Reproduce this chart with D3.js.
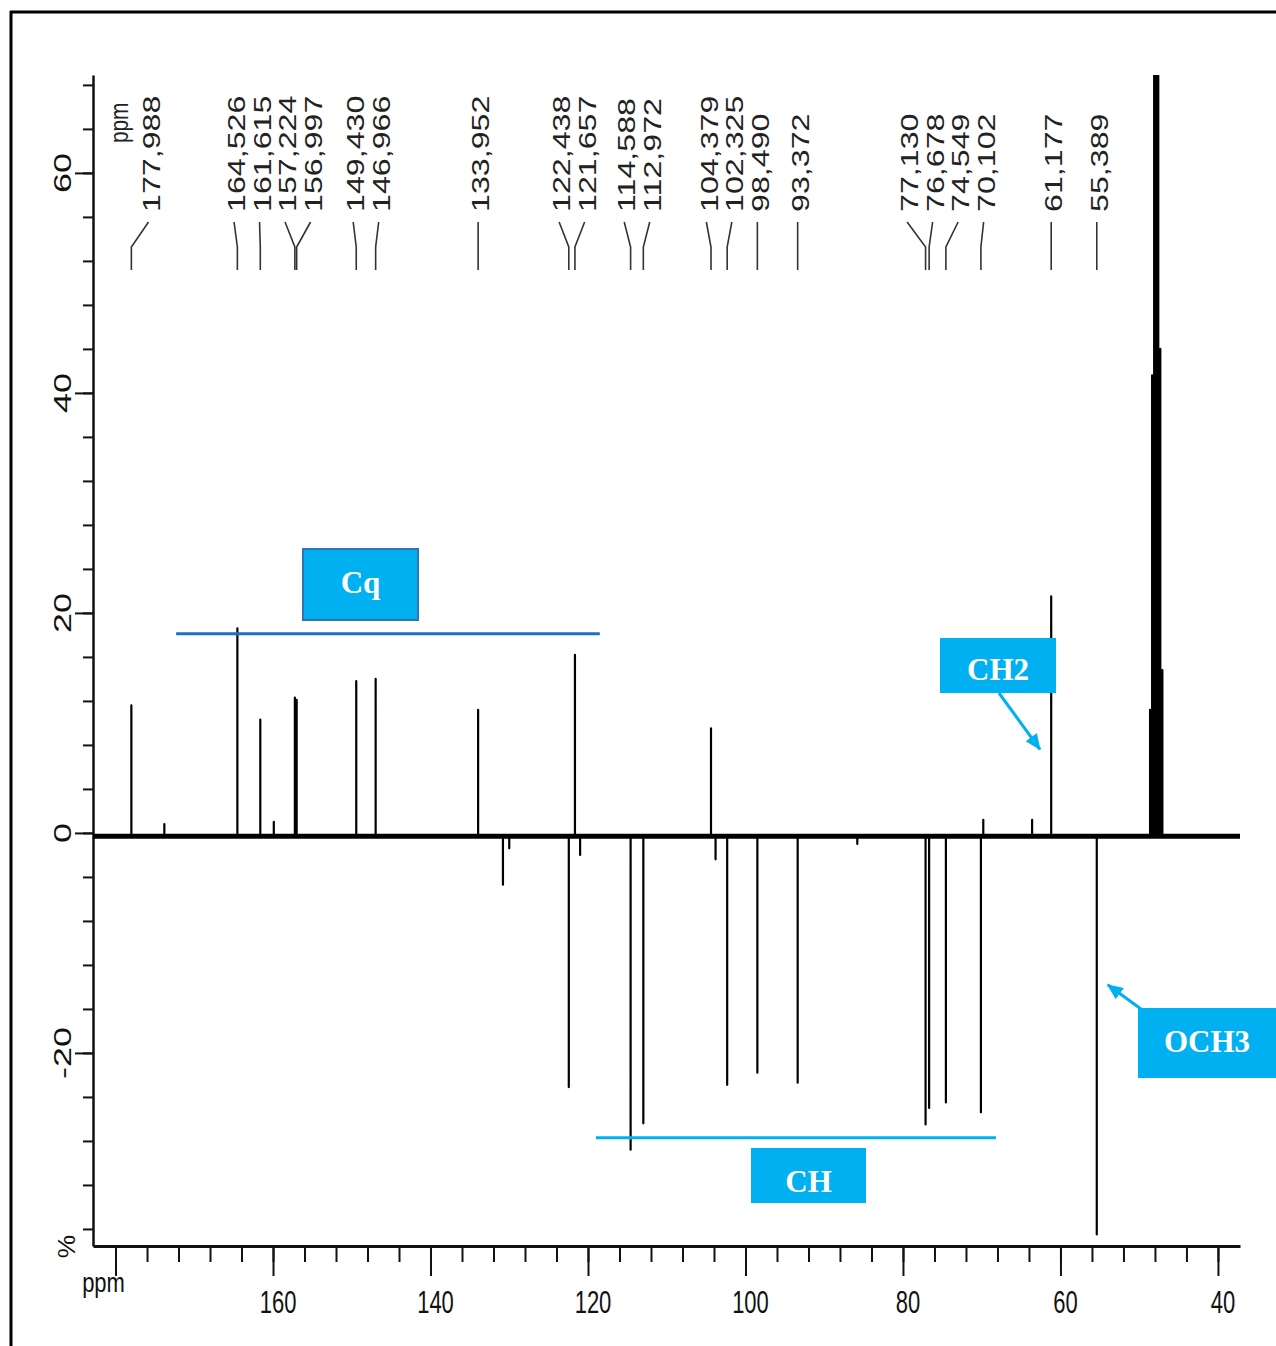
<!DOCTYPE html>
<html><head><meta charset="utf-8">
<script src="https://cdn.jsdelivr.net/npm/d3@7"></script>
<style>body{margin:0;background:#fff}</style>
</head><body><svg id="c" width="1276" height="1346"></svg>
<script>
// ---------- data ----------
const peakLabels = ["177,988","164,526","161,615","157,224","156,997","149,430","146,966","133,952","122,438","121,657","114,588","112,972","104,379","102,325","98,490","93,372","77,130","76,678","74,549","70,102","61,177","55,389"];
const peakPpm = [177.988,164.526,161.615,157.224,156.997,149.430,146.966,133.952,122.438,121.657,114.588,112.972,104.379,102.325,98.490,93.372,77.130,76.678,74.549,70.102,61.177,55.389];
const peakIntensity = [11.6,18.6,10.3,12.3,12.1,13.8,14.0,11.2,-23.1,16.2,-28.8,-26.4,9.5,-22.9,-21.8,-22.7,-26.5,-25.0,-24.5,-25.4,21.5,-36.5];
const minorPpm = [173.8,159.9,130.8,130.0,121.0,103.8,85.8,69.8,63.6];
const minorIntensity = [0.8,1.0,-4.7,-1.4,-2.0,-2.4,-1.0,1.2,1.2];
const solventPpm = [48.62,48.36,48.10,47.84,47.58,47.32,47.06];
const solventIntensity = [11.2,41.6,95,120,95,44,14.8];
const baselineLevel = -0.3;
const xMajorTicks = [180,160,140,120,100,80,60,40];
const xTickLabels = ["ppm","160","140","120","100","80","60","40"];
const yMajorTicks = [60,40,20,0,-20];
const yTickLabels = ["60","40","20","0","-20"];
const groupNames = ["Cq","CH","CH2","OCH3"];

// ---------- setup ----------
const svg = d3.select("#c");
svg.append("rect").attr("width",1276).attr("height",1346).attr("fill","#fff");
const x = d3.scaleLinear().domain([182.86, 37.2]).range([93, 1240]);
const y = d3.scaleLinear().domain([-37.55, 68.9]).range([1246, 75]);
const defs = svg.append("defs");
defs.append("clipPath").attr("id","plotclip").append("rect")
  .attr("x",88).attr("y",75).attr("width",1160).attr("height",1171);
defs.append("marker").attr("id","arr").attr("markerUnits","userSpaceOnUse")
  .attr("markerWidth",16).attr("markerHeight",14).attr("refX",15).attr("refY",7)
  .attr("orient","auto").append("path").attr("d","M0,0 L16,7 L0,14 Z").attr("fill","#00b0f0");

// frame
svg.append("line").attr("x1",10).attr("x2",1276).attr("y1",12).attr("y2",12).attr("stroke","#000").attr("stroke-width",3);
svg.append("line").attr("x1",11).attr("x2",11).attr("y1",11).attr("y2",1346).attr("stroke","#000").attr("stroke-width",3);

// ---------- axes ----------
const xMinor = d3.range(180, 39, -4);
const gx = svg.append("g").attr("transform","translate(0,1246)");
gx.call(d3.axisBottom(x).tickValues(xMinor).tickSize(16).tickSizeOuter(0).tickFormat(""));
gx.append("g").call(d3.axisBottom(x).tickValues(xMajorTicks).tickSize(30).tickSizeOuter(0).tickFormat(""))
  .select(".domain").remove();
gx.selectAll("line").attr("stroke","#111").attr("stroke-width",2);
gx.select(".domain").attr("stroke","#111").attr("stroke-width",3);

const yMinor = d3.range(-36, 69, 4);
const gy = svg.append("g").attr("transform","translate(93,0)");
gy.call(d3.axisLeft(y).tickValues(yMinor).tickSize(10).tickSizeOuter(0).tickFormat(""));
gy.append("g").call(d3.axisLeft(y).tickValues(yMajorTicks).tickSize(18).tickSizeOuter(0).tickFormat(""))
  .select(".domain").remove();
gy.selectAll("line").attr("stroke","#111").attr("stroke-width",2);
gy.select(".domain").attr("stroke","#111").attr("stroke-width",2.5);

const FONT = "'Liberation Sans', Arial, sans-serif";
// x tick labels (vertically stretched like the source)
xMajorTicks.forEach((v,i) => {
  if (xTickLabels[i] === "ppm") {
    svg.append("text").attr("transform",`translate(${x(v)-12},1292) scale(1,1.25)`)
      .attr("text-anchor","middle").attr("font-family",FONT).attr("font-size",22).attr("fill","#111").text("ppm");
  } else {
    svg.append("text").attr("transform",`translate(${x(v)+5},1313) scale(1,1.45)`)
      .attr("text-anchor","middle").attr("font-family",FONT).attr("font-size",22).attr("fill","#111").text(xTickLabels[i]);
  }
});
// y tick labels (rotated)
yMajorTicks.forEach((v,i) => {
  svg.append("text").attr("transform",`translate(71,${y(v)}) scale(1,1.5) rotate(-90)`)
    .attr("text-anchor","middle").attr("font-family",FONT).attr("font-size",24).attr("fill","#111").text(yTickLabels[i]);
});
svg.append("text").attr("transform",`translate(75,${y(-37.5)+1}) scale(1,1.1) rotate(-90)`)
  .attr("text-anchor","middle").attr("font-family",FONT).attr("font-size",24).attr("fill","#111").text("%");

// ---------- spectrum ----------
const allPeaks = peakPpm.map((p,i)=>[p,peakIntensity[i]])
  .concat(minorPpm.map((p,i)=>[p,minorIntensity[i]]))
  .concat(solventPpm.map((p,i)=>[p,solventIntensity[i]]))
  .sort((a,b)=>b[0]-a[0]);
const pts = [[x.domain()[0], baselineLevel]];
allPeaks.forEach(([p,h]) => { pts.push([p,baselineLevel],[p,h],[p,baselineLevel]); });
pts.push([x.domain()[1], baselineLevel]);
const spec = svg.append("g").attr("clip-path","url(#plotclip)");
spec.append("line").attr("x1",x(x.domain()[0])).attr("x2",x(x.domain()[1]))
  .attr("y1",y(baselineLevel)).attr("y2",y(baselineLevel)).attr("stroke","#000").attr("stroke-width",5);
spec.append("path").attr("d", d3.line().x(d=>x(d[0])).y(d=>y(d[1]))(pts))
  .attr("fill","none").attr("stroke","#000").attr("stroke-width",2.2).attr("stroke-linejoin","round");

// ---------- peak labels ----------
const headerX = x(180) + 7.5;
const gap = 25.5;
function spread(pos, gap, minLeft){
  const stack = [];
  const centre = (c, first) => {
    let ctr = c.sum / c.idx.length;
    const left = ctr - (c.idx.length-1)/2*gap;
    if (first && left < minLeft) ctr += (minLeft-left);
    return ctr;
  };
  pos.forEach((p,i) => {
    stack.push({idx:[i], sum:p});
    let merged = true;
    while (merged && stack.length >= 2) {
      merged = false;
      const a = stack[stack.length-2], b = stack[stack.length-1];
      const ca = centre(a, stack.length === 2), cb = centre(b, false);
      const aRight = ca + (a.idx.length-1)/2*gap;
      const bLeft = cb - (b.idx.length-1)/2*gap;
      if (bLeft - aRight < gap) {
        stack.pop(); stack.pop();
        stack.push({idx:a.idx.concat(b.idx), sum:a.sum+b.sum});
        merged = true;
      }
    }
  });
  const out = new Array(pos.length);
  stack.forEach((c,ci) => {
    const ctr = centre(c, ci === 0);
    c.idx.forEach((id,k) => { out[id] = ctr + (k-(c.idx.length-1)/2)*gap; });
  });
  return out;
}
const peakX = peakPpm.map(p => x(p));
const labelX = spread(peakX, gap, headerX + gap);
const gl = svg.append("g");
peakLabels.forEach((t,i) => {
  gl.append("path").attr("d",`M${peakX[i]},270 L${peakX[i]},247 L${labelX[i]},222`)
    .attr("fill","none").attr("stroke","#333").attr("stroke-width",1.6);
  gl.append("text").attr("transform",`translate(${labelX[i]+3+0.358*23},212) scale(1,1.4) rotate(-90)`)
    .attr("text-anchor","start").attr("font-family",FONT).attr("font-size",23).attr("fill","#222").text(t);
});
gl.append("text").attr("transform",`translate(${headerX+4.5},143) scale(1,0.8) rotate(-90)`)
  .attr("text-anchor","start").attr("font-family",FONT).attr("font-size",26).attr("fill","#222").text("ppm");

// ---------- annotations ----------
const SERIF = "'Liberation Serif', 'Times New Roman', serif";
const ann = svg.append("g");
// Cq
ann.append("line").attr("x1",x(172.3)).attr("x2",x(118.5)).attr("y1",y(18.1)).attr("y2",y(18.1))
  .attr("stroke","#1f6fc4").attr("stroke-width",3);
ann.append("rect").attr("x",303).attr("y",549).attr("width",115).attr("height",71)
  .attr("fill","#00b0f0").attr("stroke","#2e75b6").attr("stroke-width",2);
ann.append("text").attr("x",360.5).attr("y",593).attr("text-anchor","middle")
  .attr("font-family",SERIF).attr("font-weight","bold").attr("font-size",31).attr("fill","#fff").text(groupNames[0]);
// CH
ann.append("line").attr("x1",x(119)).attr("x2",x(68.2)).attr("y1",y(-27.7)).attr("y2",y(-27.7))
  .attr("stroke","#00b0f0").attr("stroke-width",3);
ann.append("rect").attr("x",751).attr("y",1148).attr("width",115).attr("height",55).attr("fill","#00b0f0");
ann.append("text").attr("x",808.5).attr("y",1192).attr("text-anchor","middle")
  .attr("font-family",SERIF).attr("font-weight","bold").attr("font-size",31).attr("fill","#fff").text(groupNames[1]);
// CH2
ann.append("rect").attr("x",940).attr("y",638).attr("width",116).attr("height",55).attr("fill","#00b0f0");
ann.append("text").attr("x",998).attr("y",680).attr("text-anchor","middle")
  .attr("font-family",SERIF).attr("font-weight","bold").attr("font-size",31).attr("fill","#fff").text(groupNames[2]);
ann.append("line").attr("x1",999).attr("y1",693).attr("x2",x(62.6)).attr("y2",y(7.6))
  .attr("stroke","#00b0f0").attr("stroke-width",3).attr("marker-end","url(#arr)");
// OCH3
ann.append("rect").attr("x",1138).attr("y",1008).attr("width",138).attr("height",70).attr("fill","#00b0f0");
ann.append("text").attr("x",1207).attr("y",1052).attr("text-anchor","middle")
  .attr("font-family",SERIF).attr("font-weight","bold").attr("font-size",31).attr("fill","#fff").text(groupNames[3]);
ann.append("line").attr("x1",1141).attr("y1",1009).attr("x2",x(54.0)).attr("y2",y(-13.8))
  .attr("stroke","#00b0f0").attr("stroke-width",3).attr("marker-end","url(#arr)");
</script>
</body></html>
